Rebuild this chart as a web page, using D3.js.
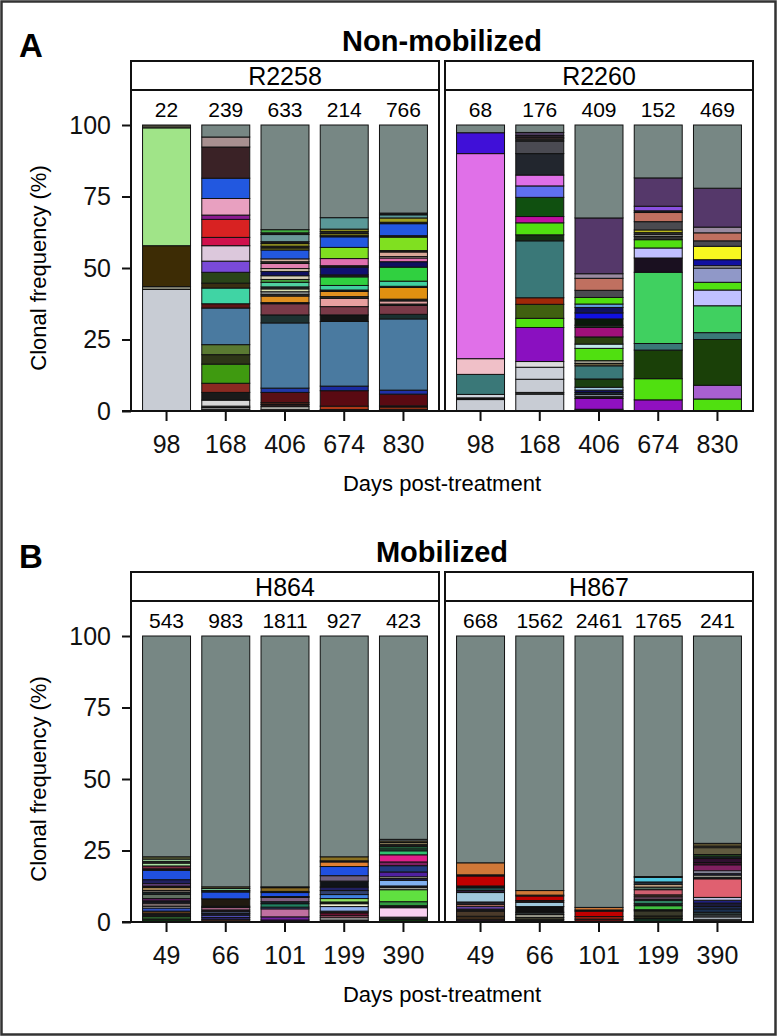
<!DOCTYPE html>
<html><head><meta charset="utf-8">
<script src="https://cdn.jsdelivr.net/npm/d3@7"></script>
<style>body{margin:0;background:#fff}</style>
</head><body><svg id="c" width="777" height="1036"></svg>
<script>
// ---------- labels ----------
const daysA = ["98","168","406","674","830"];
const daysB = ["49","66","101","199","390"];
const yTicks = [0,25,50,75,100];
const countsR2258 = [22,239,633,214,766];
const countsR2260 = [68,176,409,152,469];
const countsH864 = [543,983,1811,927,423];
const countsH867 = [668,1562,2461,1765,241];

// ---------- clone frequencies (%), bottom to top, with clone colours ----------
const R2258_98 = [42.5,1.0,14.3,41.2,1.0];
const R2258_98_col = ["#c8ccd4","#8a8a7a","#3d2c05","#a0e488","#4a4a3a"];
const R2258_168 = [0.6,0.6,0.5,2.1,2.7,3.2,6.7,3.3,3.5,12.8,1.5,5.5,1.7,3.8,3.9,5.4,2.9,6.3,1.5,5.8,7.1,10.9,3.5,4.2];
const R2258_168_col = ["#222","#bbb","#333","#d8d8d8","#1a1a1a","#8b2a22","#3f9a10","#2e3618","#5a7a32","#4a7aa0","#5c1515","#40d4a4","#3a2e12","#2a4418","#7a4ad8","#dcc8dc","#d0104c","#d82222","#8a1a90","#e8a0c0","#2258e0","#3a2226","#a89090","#778784"];
const R2258_406 = [0.6,0.9,0.8,0.6,3.6,1.5,22.8,2.8,3.9,0.4,2.3,0.6,0.9,1.0,0.7,1.6,1.0,1.3,1.5,1.0,1.8,0.6,1.0,3.1,0.7,0.6,1.0,0.6,2.5,0.6,1.1,36.6];
const R2258_406_col = ["#3a3a3a","#d8d8d0","#2a1a1a","#6a3020","#5a1014","#2038a8","#4a7aa0","#1e3232","#7a3a48","#222","#e09020","#333","#9aa0a0","#d8e0b0","#2a2a2a","#50d0a0","#40a040","#d8d0b8","#101060","#d8c8b0","#e080b0","#333","#d0b0a0","#2258e0","#8a8a20","#222","#8a8a20","#222","#6a9898","#222","#40b040","#778784"];
const R2258_674 = [0.5,1.2,5.4,1.6,22.6,2.3,2.9,2.9,0.6,1.8,0.5,1.6,3.0,0.7,2.7,0.5,2.5,3.9,3.7,0.4,0.7,0.8,0.8,4.0,32.4];
const R2258_674_col = ["#501010","#b03818","#5a0a12","#1a2aa0","#4a7aa0","#141414","#7a3a48","#e8a0a0","#333","#e09020","#222","#40d0a0","#30d040","#222","#101070","#222","#e070b0","#80e020","#2258e0","#222","#9a9a20","#222","#9a9a20","#5a9898","#778784"];
const R2258_830 = [0.6,0.8,0.4,4.1,1.4,24.9,1.6,3.1,0.5,1.1,0.6,4.1,0.4,1.8,4.9,1.9,1.3,0.5,1.6,0.5,4.7,0.5,4.2,0.5,1.5,1.1,0.6,30.8];
const R2258_830_col = ["#501010","#b03818","#2a1a1a","#5a0a12","#2030a8","#4a7aa0","#1a3030","#7a3a48","#222","#e0a0a0","#222","#e09010","#222","#40d0a0","#30d040","#101060","#e070b0","#d8c0b0","#d8a898","#222","#80e020","#222","#2258e0","#222","#a0a020","#5a9898","#1a1a1a","#778784"];

const R2260_98 = [4.0,0.6,1.2,7.0,5.5,71.7,7.3,2.7];
const R2260_98_col = ["#c8ccd4","#1a1a1a","#d0d4dc","#3a7878","#f0c0c8","#e070e8","#4010d8","#778784"];
const R2260_168 = [5.9,0.6,4.6,4.2,2.0,11.9,3.2,4.9,2.3,19.9,2.1,4.2,2.2,6.7,4.0,3.8,7.5,4.4,0.8,0.5,0.6,1.1,2.6];
const R2260_168_col = ["#c8ccd4","#333","#c8ccd4","#ccd0d8","#dcdcdc","#8a10c0","#50e010","#406010","#a02808","#3a7878","#143014","#50e010","#c010a0","#105010","#6070f0","#e070e8","#22262e","#4a4a52","#2a2a2a","#c08080","#3a2a3a","#4a3a5a","#778784"];
const R2260_406 = [0.6,3.8,0.8,0.6,0.7,0.8,1.0,2.9,4.6,0.8,1.0,4.3,1.5,2.5,3.3,0.8,2.2,2.1,1.9,1.2,2.3,2.5,4.2,1.6,19.5,32.5];
const R2260_406_col = ["#301030","#9010c0","#1a1a1a","#c0d0e0","#1a2a3a","#101060","#a0c8e0","#1a4010","#3a7878","#6a6040","#9a9a8a","#50e010","#c0e8e8","#2a4010","#a0107a","#203020","#0a1a0a","#1010e0","#101060","#60a0e0","#50e010","#4a4a50","#c07060","#9a8aa0","#55386a","#778784"];
const R2260_674 = [3.9,7.4,10.0,2.3,24.9,5.0,3.5,2.9,1.1,0.8,0.7,0.8,2.9,3.2,0.6,1.6,9.9,18.5];
const R2260_674_col = ["#9010c0","#50e010","#1a4008","#3a7878","#40d060","#1a1020","#c0c0ff","#50e010","#333","#808080","#333","#f0f020","#4a4a50","#c07060","#222","#8a50e0","#55386a","#778784"];
const R2260_830 = [4.2,4.8,16.0,2.4,9.4,5.5,2.7,5.0,0.8,2.1,4.7,1.9,2.8,2.0,13.6,22.1];
const R2260_830_col = ["#50e010","#a860d0","#1a4008","#3a7878","#40d060","#c0c0ff","#50e010","#9098c8","#c8c8c8","#1010a0","#f8f820","#4a4a50","#c07060","#9a8aa0","#55386a","#778784"];

const H864_49 = [1.0,1.0,0.9,0.9,1.1,0.6,1.1,0.8,0.8,1.5,0.8,0.5,1.1,0.5,0.8,1.4,3.3,0.5,1.0,1.0,0.6,0.8,0.8,77.2];
const H864_49_col = ["#0e2a10","#2a5a2a","#1a1a1a","#5a3a1a","#3050c0","#d8d0c8","#7a6a6a","#1a1a2a","#602060","#607060","#1a2a2a","#e0d0c0","#a08050","#2a1a10","#8050a0","#202060","#2050e0","#1a1a1a","#7a2a40","#a8e0a0","#2a2a2a","#a0d8a0","#6a7040","#778784"];
const H864_66 = [0.8,0.8,0.8,0.6,0.6,0.6,0.9,0.4,2.6,2.4,0.5,0.7,0.6,87.7];
const H864_66_col = ["#503020","#2a2060","#5050c0","#1a1a3a","#6070a0","#2a1a2a","#a06080","#1a1a1a","#201a10","#2050e0","#1a2a2a","#80d0a0","#6a6030","#778784"];
const H864_101 = [0.7,1.1,2.8,0.6,1.2,0.7,1.5,0.3,1.4,0.4,1.3,0.3,87.7];
const H864_101_col = ["#3a1050","#7020a0","#c070a0","#4050a0","#208060","#1a2a3a","#806080","#1a1a1a","#2050e0","#1a1a1a","#8a6a20","#3a3a2a","#778784"];
const H864_199 = [0.7,0.8,0.7,1.0,0.6,1.6,1.0,0.6,1.2,1.4,1.4,1.2,2.1,1.9,3.2,1.6,0.4,1.4,77.2];
const H864_199_col = ["#2a2a2a","#d0d0d0","#c06080","#6a1030","#1a1a1a","#90b0f0","#f0f0d0","#1a2a1a","#90e060","#4080e0","#304070","#202060","#101418","#706080","#2050e0","#e08030","#2a2a2a","#8a7020","#778784"];
const H864_390 = [1.0,0.7,3.3,0.7,1.4,4.2,0.7,0.6,2.0,0.6,0.6,1.7,2.2,1.3,2.5,1.4,0.7,0.7,0.9,0.6,0.6,0.5,71.1];
const H864_390_col = ["#103010","#2a2a2a","#f8d0f0","#1a1a1a","#309a40","#60e040","#e0e0d0","#1a1a2a","#80b0f0","#202060","#f0f0d0","#5020a0","#203a80","#802060","#e0208a","#30c070","#206040","#30a060","#1a1a1a","#b0a070","#5a5030","#e0f0f0","#778784"];

const H867_49 = [0.8,1.2,1.8,0.7,1.0,0.7,0.8,3.3,0.7,1.0,0.6,3.5,0.4,4.2,79.3];
const H867_49_col = ["#2a1a2a","#3a2a1a","#4a3a2a","#1a1a1a","#6040a0","#d08070","#2a2a3a","#a0c8dc","#302040","#205050","#1a1a1a","#c00000","#2a1a1a","#d07838","#778784"];
const H867_66 = [0.8,0.8,1.0,0.8,2.0,1.5,0.6,1.6,0.3,1.6,89.0];
const H867_66_col = ["#1a1a1a","#3a3a2a","#a0a090","#2a3030","#101010","#a0c8dc","#2a1a1a","#c00000","#2a1a1a","#d07838","#778784"];
const H867_101 = [1.0,0.9,1.9,0.4,0.9,94.9];
const H867_101_col = ["#5a1010","#a02010","#c00000","#2a1a1a","#d07838","#778784"];
const H867_199 = [1.2,0.9,1.8,0.4,1.4,0.7,1.2,0.4,0.8,0.7,1.8,0.9,1.0,0.8,1.6,0.3,84.1];
const H867_199_col = ["#103020","#2a2a1a","#3a3a2a","#1a1a1a","#40c040","#1a2a2a","#308060","#1a1a1a","#906080","#5a3a2a","#d06070","#507060","#c0a080","#2a3a4a","#50c8e0","#1a1a1a","#778784"];
const H867_390 = [0.8,1.0,0.7,0.9,1.2,0.8,1.2,1.0,1.0,6.5,0.6,0.7,0.7,0.8,2.1,0.8,1.4,0.6,0.8,2.4,0.5,1.0,72.5];
const H867_390_col = ["#2a2a2a","#a0a8b0","#606a70","#2a3a3a","#1a3050","#203060","#1a1a3a","#202080","#c0c0e0","#e06070","#1a1a1a","#f0f0e0","#202040","#d0d0f0","#802060","#401030","#301030","#1a2a3a","#204020","#605a40","#c0b080","#5a5030","#778784"];

// ---------- assemble ----------
const panels = [
  {letter:"A", title:"Non-mobilized", days:daysA, off:0, facets:[
    {name:"R2258", counts:countsR2258, vals:[R2258_98,R2258_168,R2258_406,R2258_674,R2258_830], cols:[R2258_98_col,R2258_168_col,R2258_406_col,R2258_674_col,R2258_830_col]},
    {name:"R2260", counts:countsR2260, vals:[R2260_98,R2260_168,R2260_406,R2260_674,R2260_830], cols:[R2260_98_col,R2260_168_col,R2260_406_col,R2260_674_col,R2260_830_col]}]},
  {letter:"B", title:"Mobilized", days:daysB, off:511, facets:[
    {name:"H864", counts:countsH864, vals:[H864_49,H864_66,H864_101,H864_199,H864_390], cols:[H864_49_col,H864_66_col,H864_101_col,H864_199_col,H864_390_col]},
    {name:"H867", counts:countsH867, vals:[H867_49,H867_66,H867_101,H867_199,H867_390], cols:[H867_49_col,H867_66_col,H867_101_col,H867_199_col,H867_390_col]}]}
];

const svg = d3.select("#c");
const font = "'Liberation Sans',Arial,Helvetica,sans-serif";
const facetX = [[131,439],[445,753]];

svg.append("rect").attr("x",1.5).attr("y",1.5).attr("width",774).attr("height",1033)
  .attr("fill","none").attr("stroke","#333").attr("stroke-width",2.5);

panels.forEach(p => {
  const o = p.off;
  const stripTop = 61+o, stripBot = 90+o;
  const y = d3.scaleLinear().domain([0,100]).range([411+o,125+o]);
  svg.append("text").attr("x",19).attr("y",57+o).text(p.letter)
    .attr("font-family",font).attr("font-weight","bold").attr("font-size",33);
  svg.append("text").attr("x",442).attr("y",51+o).attr("text-anchor","middle").text(p.title)
    .attr("font-family",font).attr("font-weight","bold").attr("font-size",29);

  p.facets.forEach((f,fi) => {
    const [x0,x1] = facetX[fi];
    const x = d3.scaleBand().domain(p.days).range([x0,x1]).paddingInner(0.19).paddingOuter(0.195);
    // strip
    svg.append("rect").attr("x",x0).attr("y",stripTop).attr("width",x1-x0).attr("height",stripBot-stripTop)
      .attr("fill","#fff").attr("stroke","#111").attr("stroke-width",2);
    svg.append("text").attr("x",(x0+x1)/2).attr("y",stripBot-5).attr("text-anchor","middle").text(f.name)
      .attr("font-family",font).attr("font-size",25);
    // bars
    const g = svg.append("g");
    p.days.forEach((d,i) => {
      const v = f.vals[i], c = f.cols[i];
      const cum = Array.from(d3.cumsum(v));
      v.forEach((val,j) => {
        g.append("rect").attr("x",x(d)).attr("width",x.bandwidth())
          .attr("y",y(cum[j])).attr("height",y(cum[j]-val)-y(cum[j]))
          .attr("fill",c[j]).attr("stroke","#111").attr("stroke-width",1);
      });
      svg.append("text").attr("x",x(d)+x.bandwidth()/2).attr("y",117+o).attr("text-anchor","middle")
        .text(f.counts[i]).attr("font-family",font).attr("font-size",21);
    });
    // panel border
    svg.append("rect").attr("x",x0).attr("y",stripBot).attr("width",x1-x0).attr("height",y(0)-stripBot)
      .attr("fill","none").attr("stroke","#111").attr("stroke-width",2);
    // x axis
    const xa = svg.append("g").attr("transform",`translate(0,${y(0)})`)
      .call(d3.axisBottom(x).tickSize(10).tickPadding(14));
    xa.select(".domain").attr("stroke","#111").attr("stroke-width",2).attr("d",`M${x0-9},0H${x1}`);
    xa.selectAll(".tick line").attr("stroke","#111").attr("stroke-width",2);
    xa.selectAll("text").attr("font-family",font).attr("font-size",25).attr("fill","#111");
  });
  // y axis
  const ya = svg.append("g").attr("transform",`translate(131,0)`)
    .call(d3.axisLeft(y).tickValues(yTicks).tickSize(9).tickPadding(11));
  ya.select(".domain").remove();
  ya.selectAll(".tick line").attr("stroke","#111").attr("stroke-width",2);
  ya.selectAll("text").attr("font-family",font).attr("font-size",25).attr("fill","#111");
  svg.append("text").attr("transform",`translate(46,${(125+411)/2+o}) rotate(-90)`)
    .attr("text-anchor","middle").text("Clonal frequency (%)")
    .attr("font-family",font).attr("font-size",22);
  svg.append("text").attr("x",442).attr("y",491+o).attr("text-anchor","middle").text("Days post-treatment")
    .attr("font-family",font).attr("font-size",22);
});
</script></body></html>
